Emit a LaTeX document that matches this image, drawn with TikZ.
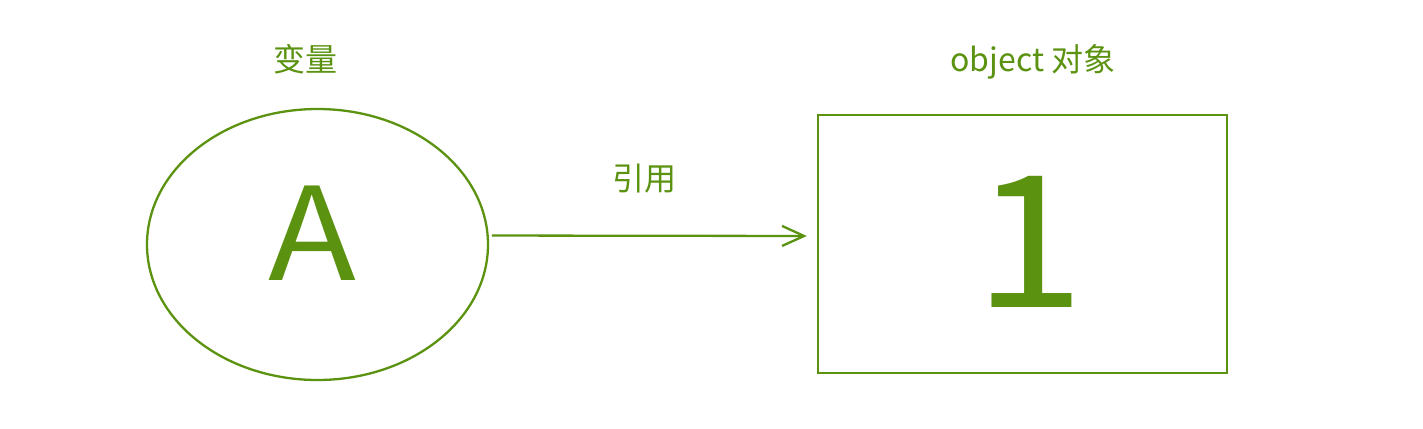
\documentclass[tikz,border=0pt]{standalone}
\usepackage{fontspec}
\setmainfont{Noto Sans CJK SC}
\usetikzlibrary{arrows.meta,shapes.geometric}
\definecolor{grn}{RGB}{91,146,16}
\begin{document}
\begin{tikzpicture}[x=1pt,y=-1pt,
  lbl/.style={text=grn,inner sep=0pt,font=\fontsize{32}{36}\selectfont},
  shp/.style={draw=grn,line width=2.3pt},
  conn/.style={draw=grn,line width=2.3pt,-{Straight Barb[length=22pt,width=20pt,line width=2.3pt]}}]
\useasboundingbox (0,0) rectangle (1423,428);
\node[shp,ellipse,minimum width=341pt,minimum height=271pt,inner sep=0pt] (var) at (317.5,244.5) {};
\node[text=grn,inner sep=0pt,font=\fontsize{129}{140}\selectfont,anchor=base,xscale=1.12] (A) at (312,280) {A};
\node[shp,rectangle,minimum width=409pt,minimum height=258pt,inner sep=0pt] (obj) at (1022.5,244) {};
\node[text=grn,inner sep=0pt,font=\fontsize{184}{200}\selectfont,anchor=base,xscale=1.08] (one) at (1030,307) {1};
\node[lbl] (t1) at (305,59) {变量};
\node[lbl] (t2) at (1033,62) {object 对象};
\node[lbl] (t3) at (644,179) {引用};
\draw[conn,shorten >=10pt,shorten <=3pt] (var.3) -- ([yshift=8pt]obj.west);
\end{tikzpicture}
\end{document}
